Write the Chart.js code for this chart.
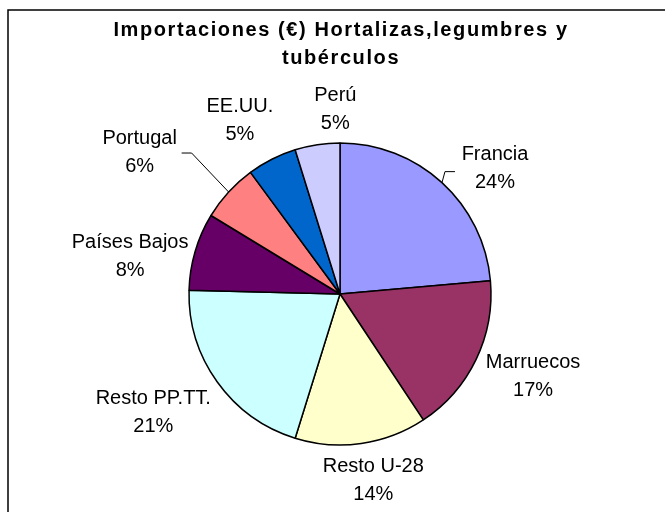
<!DOCTYPE html>
<html>
<head>
<meta charset="utf-8">
<script src="https://cdn.jsdelivr.net/npm/chart.js@4"></script>
<style>
  html, body { margin: 0; padding: 0; background: #fff; }
  canvas { display: block; }
</style>
</head>
<body>
<canvas id="chart-pie" width="665" height="512"></canvas>
<script>
// Importaciones (€) by origin, share of total (%)
const countries = ['Francia', 'Marruecos', 'Resto U-28', 'Resto PP.TT.', 'Países Bajos', 'Portugal', 'EE.UU.', 'Perú'];
const shares = [23.6, 17.1, 14.1, 20.6, 8.3, 6.2, 5.3, 4.8];
const sliceColors = ['#9999FF', '#993366', '#FFFFCC', '#CCFFFF', '#660066', '#FF8080', '#0066CC', '#CCCCFF'];
const titleLines = ['Importaciones (€) Hortalizas,legumbres y', 'tubérculos'];

// label centre, relative to the middle of each slice's outer edge
const labelShift = [[53, -14], [57, 17], [12, 37], [-64, 30], [-65, 5], [-89, -40], [-32, -39], [18, -35]];
// leader lines (points relative to the label centre), only where the original has them
const leaders = { 'Francia': [[-50, 3], [-40, 3]], 'Portugal': [[52, 1], [42, 1]] };

const total = shares.reduce((a, b) => a + b, 0);

const decorations = {
    id: 'decorations',
    afterDraw(chart) {
        const ctx = chart.ctx;
        ctx.save();

        // outer frame
        ctx.strokeStyle = '#000';
        ctx.lineWidth = 1.5;
        ctx.beginPath();
        ctx.moveTo(8, 520);
        ctx.lineTo(8, 10);
        ctx.lineTo(670, 10);
        ctx.stroke();

        // title
        ctx.fillStyle = '#000';
        ctx.textAlign = 'center';
        ctx.textBaseline = 'middle';
        ctx.font = "bold 20px 'Liberation Sans', Arial, sans-serif";
        if ('letterSpacing' in ctx) ctx.letterSpacing = '1.6px';
        ctx.fillText(titleLines[0], 341, 30);
        ctx.fillText(titleLines[1], 341, 58);
        if ('letterSpacing' in ctx) ctx.letterSpacing = '0px';

        // data labels
        ctx.font = "20px 'Liberation Sans', Arial, sans-serif";
        const meta = chart.getDatasetMeta(0);
        meta.data.forEach((arc, i) => {
            const p = arc.getProps(['x', 'y', 'startAngle', 'endAngle', 'outerRadius'], true);
            const mid = (p.startAngle + p.endAngle) / 2;
            const ex = p.x + Math.cos(mid) * p.outerRadius;
            const ey = p.y + Math.sin(mid) * p.outerRadius;
            const lx = ex + labelShift[i][0];
            const ly = ey + labelShift[i][1];

            const lead = leaders[countries[i]];
            if (lead) {
                ctx.strokeStyle = '#000';
                ctx.lineWidth = 1;
                ctx.beginPath();
                ctx.moveTo(ex, ey);
                lead.forEach(pt => ctx.lineTo(lx + pt[0], ly + pt[1]));
                ctx.stroke();
            }

            const pct = Math.round(shares[i] / total * 100) + '%';
            ctx.fillText(countries[i], lx, ly - 14);
            ctx.fillText(pct, lx, ly + 14);
        });

        ctx.restore();
    }
};

new Chart(document.getElementById('chart-pie'), {
    type: 'pie',
    data: {
        labels: countries,
        datasets: [{
            data: shares,
            backgroundColor: sliceColors,
            borderColor: '#000',
            borderWidth: 1.5,
            radius: 151
        }]
    },
    options: {
        responsive: false,
        animation: false,
        layout: { padding: { left: 40, right: 25, top: 96, bottom: 20 } },
        plugins: {
            legend: { display: false },
            tooltip: { enabled: false },
            title: { display: false }
        }
    },
    plugins: [decorations]
});
</script>
</body>
</html>
